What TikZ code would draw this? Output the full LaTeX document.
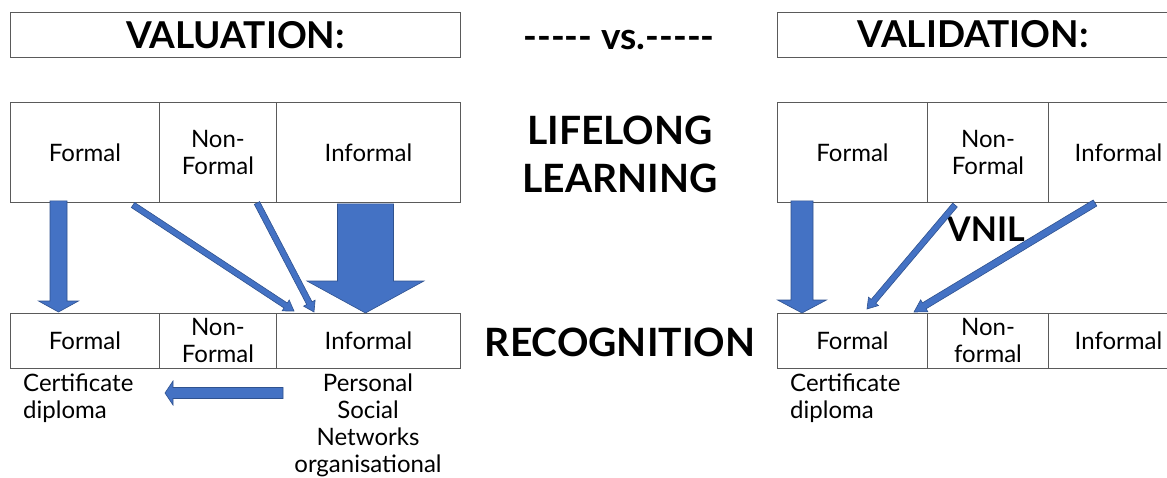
\documentclass[tikz,border=0pt]{standalone}
\usepackage{fontspec}
\setmainfont{Lato}
\usetikzlibrary{calc}

\definecolor{arrowblue}{HTML}{4472C4}
\definecolor{arrowedge}{HTML}{2F528F}
\definecolor{boxline}{HTML}{5A5A5A}

\tikzset{
  cell/.style={draw=boxline, line width=0.9pt, anchor=north west, inner sep=0pt,
    align=center, font=\fontsize{24}{27}\selectfont},
  headbox/.style={draw=boxline, line width=0.9pt, anchor=north west, inner sep=0pt,
    minimum height=45pt},
  headtext/.style={font=\bfseries\fontsize{37}{40}\selectfont, inner sep=0pt},
  bigtext/.style={font=\bfseries\fontsize{39}{48}\selectfont, inner sep=0pt, align=center},
  plain/.style={font=\fontsize{24}{27}\selectfont, inner sep=0pt},
  arrowstyle/.style={fill=arrowblue, draw=arrowedge, line width=0.6pt, line join=miter},
}

% block arrow: from, to, shaft half-width, head half-width, head length
\newcommand\blockarrow[5]{%
  \filldraw[arrowstyle] let \p1=(#1), \p2=(#2),
      \n1={atan2(\y2-\y1,\x2-\x1)}, \n2={veclen(\x2-\x1,\y2-\y1)-#5} in
    ($(\p1)+(canvas polar cs:angle=\n1+90,radius=#3pt)$) --
    ($(\p1)+(canvas polar cs:angle=\n1,radius=\n2)+(canvas polar cs:angle=\n1+90,radius=#3pt)$) --
    ($(\p1)+(canvas polar cs:angle=\n1,radius=\n2)+(canvas polar cs:angle=\n1+90,radius=#4pt)$) --
    (\p2) --
    ($(\p1)+(canvas polar cs:angle=\n1,radius=\n2)+(canvas polar cs:angle=\n1-90,radius=#4pt)$) --
    ($(\p1)+(canvas polar cs:angle=\n1,radius=\n2)+(canvas polar cs:angle=\n1-90,radius=#3pt)$) --
    ($(\p1)+(canvas polar cs:angle=\n1-90,radius=#3pt)$) -- cycle;}

\begin{document}
\begin{tikzpicture}[x=1pt, y=-1pt]
  \clip (0,0) rectangle (1167,477);
  \fill[white] (0,0) rectangle (1167,477);

  % headings
  \node[headbox, minimum width=450pt] (hval) at (10,12) {};
  \node[headtext] (tval) at (hval.center) {VALUATION:};
  \node[headbox, minimum width=400pt] (hvld) at (777,12) {};
  \node[headtext] (tvld) at (973,34.5) {VALIDATION:};
  \node[headtext] (vs) at (619,40) {-{}-{}-{}-{}- vs.-{}-{}-{}-{}-};

  % valuation: lifelong learning row
  \node[cell, minimum width=149pt, minimum height=100pt] (lF) at (10,102) {Formal};
  \node[cell, minimum width=117pt, minimum height=100pt] (lN) at (159,102) {Non-\\Formal};
  \node[cell, minimum width=184pt, minimum height=100pt] (lI) at (276,102) {Informal};

  % validation: lifelong learning row
  \node[cell, minimum width=150pt, minimum height=100pt] (rF) at (777,102) {Formal};
  \node[cell, minimum width=121pt, minimum height=100pt] (rN) at (927,102) {Non-\\Formal};
  \node[cell, minimum width=140pt, minimum height=100pt, text width=118pt] (rI) at (1048,102) {Informal};

  % valuation: recognition row
  \node[cell, minimum width=149pt, minimum height=55pt] (bF) at (10,313) {Formal};
  \node[cell, minimum width=117pt, minimum height=55pt] (bN) at (159,313) {Non-\\Formal};
  \node[cell, minimum width=184pt, minimum height=55pt] (bI) at (276,313) {Informal};

  % validation: recognition row
  \node[cell, minimum width=150pt, minimum height=55pt] (cF) at (777,313) {Formal};
  \node[cell, minimum width=121pt, minimum height=55pt] (cN) at (927,313) {Non-\\formal};
  \node[cell, minimum width=140pt, minimum height=55pt, text width=118pt] (cI) at (1048,313) {Informal};

  % middle column
  \node[bigtext] (ll) at (620,154) {LIFELONG\\LEARNING};
  \node[bigtext] (rec) at (620,342) {RECOGNITION};
  \node[font=\bfseries\fontsize{34}{40}\selectfont, inner sep=0pt] (vnil) at (986,229) {VNIL};

  % notes under the recognition rows
  \node[plain, anchor=north west, align=left] (cert) at (23,374) {Certificate\\diploma};
  \node[plain, anchor=north west, align=left] (cert2) at (790,374) {Certificate\\diploma};
  \node[plain, anchor=north, align=center] (pers) at (368,374) {Personal\\Social\\Networks\\organisational};

  % arrow end points
  \coordinate (a1s) at ($(lF.south west)+(48.5,-2)$);
  \coordinate (a1e) at ($(bF.north west)+(48.5,-1)$);
  \coordinate (a2s) at (133,205);
  \coordinate (a2e) at (294,311);
  \coordinate (a3s) at (257,203);
  \coordinate (a3e) at (314,312);
  \coordinate (a4s) at ($(lI.south)+(-3,1)$);
  \coordinate (a4e) at ($(bI.north)+(-3,0)$);
  \coordinate (a5s) at (283,393);
  \coordinate (a5e) at (165,393);

  \coordinate (b1s) at ($(rF.south west)+(25,-2)$);
  \coordinate (b1e) at ($(cF.north west)+(25,0)$);
  \coordinate (b2s) at (955,205);
  \coordinate (b2e) at (867,309);
  \coordinate (b3s) at (1095,203);
  \coordinate (b3e) at (914,312);

  % valuation arrows
  \blockarrow{a1s}{a1e}{8.5}{20}{11}
  \blockarrow{a2s}{a2e}{3}{6.5}{10}
  \blockarrow{a3s}{a3e}{3}{6.5}{10}
  \blockarrow{a4s}{a4e}{28}{58.5}{32}
  \blockarrow{a5s}{a5e}{5.5}{12}{8}

  % validation arrows
  \blockarrow{b1s}{b1e}{11}{24.5}{13}
  \blockarrow{b2s}{b2e}{3}{6.5}{10}
  \blockarrow{b3s}{b3e}{3.5}{7}{12}
\end{tikzpicture}
\end{document}
